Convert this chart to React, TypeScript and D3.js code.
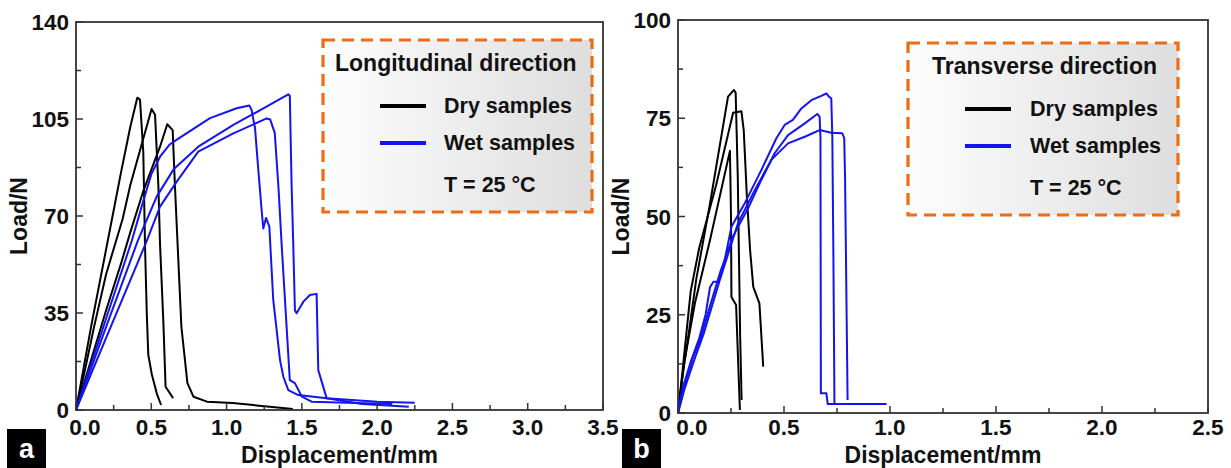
import React from 'react';
import * as d3 from 'd3';

type Pt = [number, number];

// axis ticks
const longXTicks = [0, 0.5, 1.0, 1.5, 2.0, 2.5, 3.0, 3.5];
const longYTicks = [0, 35, 70, 105, 140];
const transXTicks = [0, 0.5, 1.0, 1.5, 2.0, 2.5];
const transYTicks = [0, 25, 50, 75, 100];

// (a) longitudinal direction, displacement (mm) / load (N)
const longDry1: Pt[] = [
  [0, 0], [0.03, 9], [0.1, 30], [0.2, 58], [0.3, 86], [0.36, 102], [0.407, 112.7], [0.425, 112],
  [0.447, 93], [0.458, 60], [0.47, 35], [0.48, 20], [0.503, 13], [0.536, 6], [0.565, 1.8],
];
const longDry2: Pt[] = [
  [0, 0], [0.05, 12], [0.12, 30], [0.2, 49], [0.31, 69], [0.36, 81], [0.447, 98], [0.502, 108.6],
  [0.525, 106.5], [0.547, 81], [0.558, 60], [0.58, 32], [0.595, 8.4], [0.645, 4.3],
];
const longDry3: Pt[] = [
  [0, 0], [0.1, 18], [0.2, 36], [0.3, 53], [0.36, 64], [0.447, 79], [0.558, 95], [0.606, 103.1],
  [0.642, 101], [0.657, 81], [0.675, 59.5], [0.7, 30], [0.74, 9.7], [0.78, 4.8], [0.87, 3],
  [1.04, 2.5], [1.44, 0.4],
];
const longWet1: Pt[] = [
  [0, 0], [0.2, 33], [0.37, 61], [0.45, 76], [0.5, 85], [0.558, 91.4], [0.624, 95.9], [0.69, 98.3],
  [0.89, 105.3], [1.067, 108.9], [1.151, 109.9], [1.166, 108.3], [1.189, 101.7], [1.21, 87.2],
  [1.233, 72], [1.244, 65.5], [1.262, 69.3], [1.284, 66.2], [1.31, 39.7], [1.355, 18], [1.377, 12],
  [1.41, 7.2], [1.476, 5.4], [1.665, 4.2], [2.0, 3.0], [2.25, 2.6],
];
const longWet2: Pt[] = [
  [0, 0], [0.2, 30], [0.41, 61], [0.536, 77], [0.65, 87], [0.812, 95], [1.045, 102.9], [1.2, 107.5],
  [1.41, 113.9], [1.42, 113.4], [1.432, 81], [1.443, 59.5], [1.454, 36], [1.465, 34.9], [1.51, 39.1],
  [1.554, 41.5], [1.598, 41.9], [1.609, 14.4], [1.665, 4.2], [1.9, 2.2], [2.21, 1.2],
];
const longWet3: Pt[] = [
  [0, 0], [0.2, 26], [0.47, 61], [0.558, 73.4], [0.669, 82.4], [0.812, 93.2], [1.045, 99.8],
  [1.266, 105.2], [1.29, 104.8], [1.32, 100], [1.345, 80], [1.366, 59.5], [1.388, 39.7], [1.42, 10.8],
  [1.454, 9.7], [1.5, 4.8], [1.565, 3], [2.1, 2.2],
];

// (b) transverse direction
const transDry1: Pt[] = [
  [0, 0], [0.02, 9], [0.05, 20], [0.086, 34], [0.15, 53], [0.236, 80.5], [0.264, 82.2], [0.272, 81.5],
  [0.282, 60], [0.293, 20], [0.3, 3.3],
];
const transDry2: Pt[] = [
  [0, 0], [0.02, 10], [0.06, 31], [0.1, 42], [0.18, 58], [0.26, 76.4], [0.299, 76.8], [0.31, 72],
  [0.325, 55], [0.34, 41.5], [0.355, 32.1], [0.384, 27.9], [0.402, 11.8],
];
const transDry3: Pt[] = [
  [0, 0], [0.03, 13], [0.08, 28], [0.151, 44], [0.245, 66.7], [0.25, 50], [0.252, 29.5],
  [0.274, 27.5], [0.292, 0.8],
];
const transWet1: Pt[] = [
  [0, 0], [0.02, 6], [0.06, 13], [0.1, 19], [0.13, 25], [0.151, 32], [0.167, 33.4], [0.19, 33.4],
  [0.214, 37.2], [0.252, 47.4], [0.315, 53.4], [0.393, 61.8], [0.464, 69.9], [0.503, 73.3],
  [0.542, 74.6], [0.582, 77.5], [0.629, 79.6], [0.676, 80.7], [0.7, 81.3], [0.712, 80.5],
  [0.723, 80.1], [0.728, 70], [0.733, 40], [0.738, 2.3], [0.984, 2.3],
];
const transWet2: Pt[] = [
  [0, 0], [0.03, 7], [0.07, 14], [0.104, 18.6], [0.15, 27], [0.2, 36], [0.26, 45], [0.33, 52],
  [0.393, 59.3], [0.456, 66.1], [0.519, 70.7], [0.598, 73.7], [0.657, 76.1], [0.668, 75.4],
  [0.672, 70], [0.674, 5], [0.7, 5], [0.706, 2.3], [0.74, 2.3],
];
const transWet3: Pt[] = [
  [0, 0], [0.03, 6], [0.08, 14], [0.12, 20], [0.197, 33.8], [0.283, 48.3], [0.362, 56.7], [0.44, 64.4],
  [0.519, 68.6], [0.598, 70.3], [0.668, 72], [0.723, 71.3], [0.774, 71.2], [0.784, 70], [0.788, 60],
  [0.8, 3.3],
];

const FONT = "'Liberation Sans', Arial, sans-serif";
const DRY = '#000000';
const WET = '#1414f0';
const ORANGE = '#ee6c12';
const AXIS = '#333333';

interface PanelProps {
  id: string;
  frame: { left: number; right: number; top: number; bottom: number };
  xTicks: number[];
  yTicks: number[];
  firstLabelShift: number;
  dry: Pt[][];
  wet: Pt[][];
  title: string;
  box: { x: number; y: number; w: number; h: number; titleX: number; lineX: number; textX: number };
  letter: string;
  letterX: number;
}

function Panel(p: PanelProps) {
  const { frame, xTicks, yTicks } = p;
  const xMax = xTicks[xTicks.length - 1];
  const yMax = yTicks[yTicks.length - 1];
  const x = d3.scaleLinear().domain([0, xMax]).range([frame.left, frame.right]);
  const y = d3.scaleLinear().domain([0, yMax]).range([frame.bottom, frame.top]);
  const line = d3.line<Pt>().x(d => x(d[0])).y(d => y(d[1]));

  const xStep = xTicks[1] - xTicks[0];
  const yStep = yTicks[1] - yTicks[0];
  const xMinor = xTicks.slice(0, -1).map(v => v + xStep / 2);
  const yMinor = yTicks.slice(0, -1).map(v => v + yStep / 2);
  const fmt = d3.format('.1f');
  const b = p.box;

  return (
    <g>
      <defs>
        <linearGradient id={`grad-${p.id}`} x1="0" x2="1" y1="0" y2="0">
          <stop offset="0" stopColor="#fdfdfd" />
          <stop offset="1" stopColor="#dedede" />
        </linearGradient>
      </defs>

      {/* curves */}
      {p.dry.map((s, i) => (
        <path key={`d${i}`} d={line(s) || ''} fill="none" stroke={DRY} strokeWidth={2} strokeLinejoin="round" />
      ))}
      {p.wet.map((s, i) => (
        <path key={`w${i}`} d={line(s) || ''} fill="none" stroke={WET} strokeWidth={2} strokeLinejoin="round" />
      ))}

      {/* frame */}
      <rect x={frame.left} y={frame.top} width={frame.right - frame.left} height={frame.bottom - frame.top}
        fill="none" stroke={AXIS} strokeWidth={1.8} />

      {/* ticks */}
      {xTicks.map(v => (
        <line key={`xt${v}`} x1={x(v)} x2={x(v)} y1={frame.bottom} y2={frame.bottom - 7} stroke={AXIS} strokeWidth={1.5} />
      ))}
      {xMinor.map(v => (
        <line key={`xm${v}`} x1={x(v)} x2={x(v)} y1={frame.bottom} y2={frame.bottom - 5} stroke={AXIS} strokeWidth={1.5} />
      ))}
      {yTicks.map(v => (
        <line key={`yt${v}`} x1={frame.left} x2={frame.left + 7} y1={y(v)} y2={y(v)} stroke={AXIS} strokeWidth={1.5} />
      ))}
      {yMinor.map(v => (
        <line key={`ym${v}`} x1={frame.left} x2={frame.left + 5} y1={y(v)} y2={y(v)} stroke={AXIS} strokeWidth={1.5} />
      ))}

      {/* tick labels */}
      <g fontFamily={FONT} fontWeight="bold" fontSize={22.5} fill="#111">
        {xTicks.map((v, i) => (
          <text key={`xl${v}`} x={x(v) + (i === 0 ? p.firstLabelShift : 0)} y={435}
            textAnchor="middle">{fmt(v)}</text>
        ))}
        {yTicks.map(v => (
          <text key={`yl${v}`} x={frame.left - 7} y={y(v) + 8} textAnchor="end">{v}</text>
        ))}
      </g>

      {/* axis titles */}
      <text x={(frame.left + frame.right) / 2} y={463} textAnchor="middle" fontFamily={FONT}
        fontWeight="bold" fontSize={23} fill="#111">Displacement/mm</text>
      <text transform={`translate(${frame.left - 49},${(frame.top + frame.bottom) / 2}) rotate(-90)`}
        textAnchor="middle" fontFamily={FONT} fontWeight="bold" fontSize={23} fill="#111">Load/N</text>

      {/* legend */}
      <rect x={b.x} y={b.y} width={b.w} height={b.h} fill={`url(#grad-${p.id})`} stroke={ORANGE}
        strokeWidth={3.2} strokeDasharray="12 7" />
      <g fontFamily={FONT} fontWeight="bold" fill="#111">
        <text x={b.titleX} y={b.y + 31} fontSize={23}>{p.title}</text>
        <line x1={b.lineX} x2={b.lineX + 46} y1={b.y + 66} y2={b.y + 66} stroke={DRY} strokeWidth={4} />
        <text x={b.textX} y={b.y + 73} fontSize={21.5}>Dry samples</text>
        <line x1={b.lineX} x2={b.lineX + 46} y1={b.y + 103} y2={b.y + 103} stroke={WET} strokeWidth={4} />
        <text x={b.textX} y={b.y + 110} fontSize={21.5}>Wet samples</text>
        <text x={b.textX} y={b.y + 152} fontSize={21.5}>T = 25 °C</text>
      </g>

      {/* panel letter */}
      <rect x={p.letterX} y={429} width={39} height={39} fill="#000" />
      <text x={p.letterX + 19.5} y={458} textAnchor="middle" fontFamily={FONT} fontWeight="bold"
        fontSize={27} fill="#fff">{p.letter}</text>
    </g>
  );
}

export default function App() {
  return (
    <div style={{ position: 'fixed', left: 0, top: 0 }}>
      <svg width={1231} height={468} viewBox="0 0 1231 468" style={{ display: 'block', background: '#fff' }}>
        <Panel
          id="a"
          frame={{ left: 76, right: 603, top: 22, bottom: 410 }}
          xTicks={longXTicks}
          yTicks={longYTicks}
          firstLabelShift={9}
          dry={[longDry1, longDry2, longDry3]}
          wet={[longWet1, longWet2, longWet3]}
          title="Longitudinal direction"
          box={{ x: 323, y: 40, w: 269, h: 172, titleX: 335, lineX: 380, textX: 444 }}
          letter="a"
          letterX={7}
        />
        <Panel
          id="b"
          frame={{ left: 678, right: 1208, top: 20, bottom: 413 }}
          xTicks={transXTicks}
          yTicks={transYTicks}
          firstLabelShift={14}
          dry={[transDry1, transDry2, transDry3]}
          wet={[transWet1, transWet2, transWet3]}
          title="Transverse direction"
          box={{ x: 908, y: 43, w: 270, h: 172, titleX: 932, lineX: 965, textX: 1030 }}
          letter="b"
          letterX={622}
        />
      </svg>
    </div>
  );
}
